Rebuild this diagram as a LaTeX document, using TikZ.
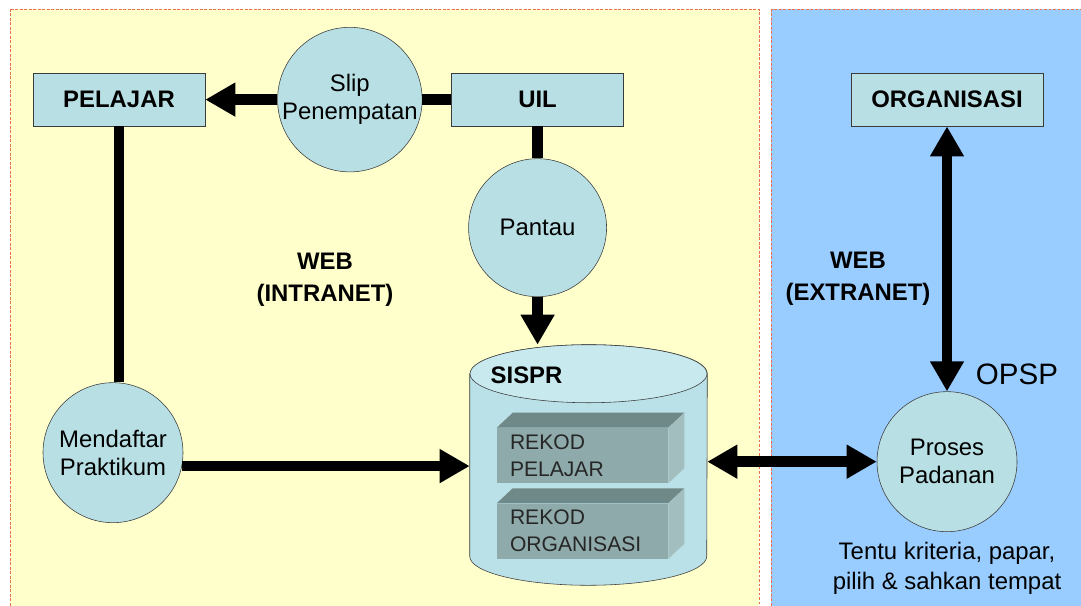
\documentclass[tikz,border=0pt]{standalone}
\usepackage{fontspec}
\setmainfont{Liberation Sans}
\usepackage{tikz}
\usetikzlibrary{shapes}
\usetikzlibrary{arrows.meta,positioning}
\definecolor{nodefill}{RGB}{184,224,228}
\definecolor{nodeline}{RGB}{60,60,60}
\definecolor{intrabg}{RGB}{255,255,204}
\definecolor{extrabg}{RGB}{153,204,255}
\definecolor{zoneline}{RGB}{236,112,80}
\definecolor{cylbody}{RGB}{186,225,231}
\definecolor{cyltop}{RGB}{200,233,238}
\definecolor{recfront}{RGB}{143,170,170}
\definecolor{rectop}{RGB}{111,136,136}
\definecolor{recside}{RGB}{163,190,191}
\tikzstyle{zone}=[fill=intrabg, draw=zoneline, line width=0.7pt, dash pattern=on 2pt off 1.2pt]
\tikzstyle{box node}=[rectangle, draw=nodeline, fill=nodefill, minimum width=4.3cm, minimum height=1.325cm, font=\fontsize{17}{20}\selectfont\bfseries]
\tikzstyle{proc node}=[circle, draw=nodeline, fill=nodefill, minimum size=3.5cm, inner sep=0pt, align=center]
\tikzstyle{rekod node}=[rectangle, fill=recfront, minimum width=4.275cm, minimum height=1.375cm, inner xsep=0.325cm, inner ysep=0pt, text width=3.625cm, align=left, font=\fontsize{15}{19}\selectfont, text=black!85]
\tikzstyle{zone label}=[align=center, font=\fontsize{17}{23}\selectfont\bfseries]
\tikzstyle{pipe}=[line width=0.265cm]

\begin{document}
\begin{tikzpicture}[>={Triangle[length=0.75cm,width=0.8cm]}, node distance=1cm, font=\fontsize{17}{20}\selectfont]

  \useasboundingbox (0,0) rectangle (27.025,-15.125);

  % intranet / extranet zones
  \fill[white] (0,0) rectangle (27.025,-15.125);
  \draw[zone] (0.25,-0.225) rectangle (18.975,-15.4);
  \draw[zone, fill=extrabg] (19.275,-0.225) rectangle (27.4,-15.4);

  \node[box node] (pelajar) at (2.975,-2.49) {PELAJAR};
  \node[proc node] (slip) [right = 1.8cm of pelajar] {Slip\\Penempatan};
  \node[box node] (uil) [right = 6.15cm of pelajar] {UIL};
  \node[proc node, minimum size=3.45cm] (pantau) [below = 0.8cm of uil] {Pantau};
  \node[proc node] (mendaftar) [below = 6.4cm of pelajar, xshift=-0.15cm] {Mendaftar\\Praktikum};

  \node[box node, minimum width=4.8cm] (organisasi) at (23.675,-2.49) {ORGANISASI};
  \node[proc node] (proses) [below = 6.625cm of organisasi] {Proses\\Padanan};

  % SISPR store
  \node[minimum width=5.925cm, minimum height=6cm] (sispr) at (14.7125,-11.625) {};
  \draw[nodeline, fill=cylbody] ([yshift=-0.725cm]sispr.north west)
    -- ([yshift=0.725cm]sispr.south west)
    arc[start angle=180, end angle=360, x radius=2.9625cm, y radius=0.725cm]
    -- ([yshift=-0.725cm]sispr.north east)
    arc[start angle=0, end angle=180, x radius=2.9625cm, y radius=0.725cm] -- cycle;
  \draw[nodeline, fill=cyltop] ([yshift=-0.725cm]sispr.north) ellipse [x radius=2.9625cm, y radius=0.725cm];
  \node[font=\fontsize{17}{20}\selectfont\bfseries, anchor=west] (sisprlabel) at ([xshift=0.4cm,yshift=-0.775cm]sispr.north west) {SISPR};

  \node[rekod node] (rekodpel) at (14.5625,-11.3875) {REKOD\\PELAJAR};
  \node[rekod node] (rekodorg) [below = 0.5cm of rekodpel] {REKOD\\ORGANISASI};
  \foreach \r in {rekodpel,rekodorg}{
    \fill[rectop] (\r.north west) -- ++(0.4,0.375) -- ([shift={(0.4,0.375)}]\r.north east) -- (\r.north east) -- cycle;
    \fill[recside] (\r.north east) -- ++(0.4,0.375) -- ([shift={(0.4,0.375)}]\r.south east) -- (\r.south east) -- cycle;
  }

  \path[pipe]
  (uil) edge node {} (slip)
  (slip) edge[->] node {} (pelajar)
  (pelajar) edge node {} (pelajar.south |- mendaftar.north)
  (uil) edge node {} (pantau)
  (pantau) edge[->] node {} (pantau.south |- sispr.north)
  (mendaftar.-11) edge[->] node {} (mendaftar.-11 -| sispr.west)
  (sispr.east |- proses.west) edge[<->] node {} (proses)
  (organisasi) edge[<->] node {} (proses);

  \node[zone label] (intranet) at (8.125,-7.0) {WEB\\(INTRANET)};
  \node[zone label] (extranet) at (21.45,-6.975) {WEB\\(EXTRANET)};
  \node[font=\fontsize{21}{25}\selectfont, anchor=west] (opsp) at ([xshift=0.6cm,yshift=0.425cm]proses.north) {OPSP};
  \node[align=center, font=\fontsize{17}{21.3}\selectfont] (tentu) [below = 0.13cm of proses] {Tentu kriteria, papar,\\pilih \& sahkan tempat};

\end{tikzpicture}
\end{document}
